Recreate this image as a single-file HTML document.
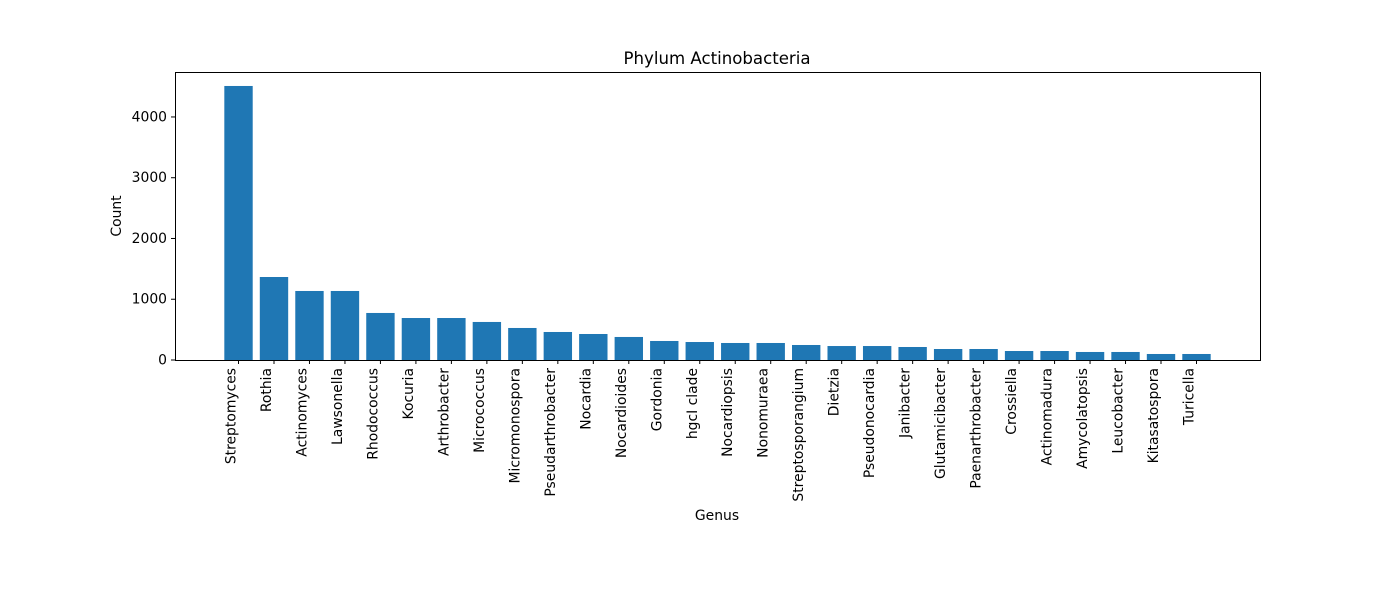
<!DOCTYPE html>
<html><head><meta charset="utf-8"><style>
body{margin:0;background:#fff;}
svg{font-family:"DejaVu Sans","Liberation Sans",sans-serif;}
</style></head><body>
<svg id="chart" width="1400" height="600" xmlns="http://www.w3.org/2000/svg">
<rect width="1400" height="600" fill="#fff"/>
<text x="717" y="64" text-anchor="middle" font-size="16.6">Phylum Actinobacteria</text>
<g id="bars"></g><g id="xticks"></g><g id="yticks"></g>
<rect x="175.5" y="72.5" width="1085" height="288" fill="none" stroke="#000" stroke-width="1"/>
<text transform="translate(121,216) rotate(-90)" text-anchor="middle" font-size="13.9">Count</text>
<text x="717" y="520" text-anchor="middle" font-size="13.9">Genus</text>
</svg>
<script>
const categories=["Streptomyces","Rothia","Actinomyces","Lawsonella","Rhodococcus","Kocuria","Arthrobacter","Micrococcus","Micromonospora","Pseudarthrobacter","Nocardia","Nocardioides","Gordonia","hgcI clade","Nocardiopsis","Nonomuraea","Streptosporangium","Dietzia","Pseudonocardia","Janibacter","Glutamicibacter","Paenarthrobacter","Crossiella","Actinomadura","Amycolatopsis","Leucobacter","Kitasatospora","Turicella"];
const counts=[4510,1366,1136,1136,774,691,691,626,527,461,428,379,313,296,280,280,247,230,230,214,181,181,148,148,132,132,99,99];
const yTicks=[0,1000,2000,3000,4000];
const NS="http://www.w3.org/2000/svg";
const L=175,R=1260,T=72,B=360;
const ymax=4740;
const xmin=-1.79,xmax=categories.length-1+1.79;
const xs=v=>L+(v-xmin)/(xmax-xmin)*(R-L);
const ys=v=>B-v/ymax*(B-T);
const bw=0.8*(R-L)/(xmax-xmin);
function mk(t,a){const e=document.createElementNS(NS,t);for(const k in a)e.setAttribute(k,a[k]);return e;}
const gb=document.getElementById('bars'),gx=document.getElementById('xticks'),gy=document.getElementById('yticks');
categories.forEach((c,i)=>{
 const cx=xs(i);
 const r=mk('rect',{x:cx-bw/2,y:ys(counts[i]),width:bw,height:B-ys(counts[i]),fill:'#1f77b4'});
 
 
 gb.appendChild(r);
 const tk=mk('line',{x1:cx,x2:cx,y1:B,y2:B+4,stroke:'#000'});
 
 
 gx.appendChild(tk);
 const t=mk('text',{transform:`translate(${cx-3},${B+8}) rotate(-90)`,'text-anchor':'end','font-size':'13.9'});
 t.textContent=c;
 
 
 gx.appendChild(t);
});
yTicks.forEach(v=>{
 const y=ys(v);
 const tk=mk('line',{x1:L-4,x2:L,y1:y,y2:y,stroke:'#000'});
 
 
 gy.appendChild(tk);
 const t=mk('text',{x:L-8,y:y+4.5,'text-anchor':'end','font-size':'13.9'});
 t.textContent=v;
 
 
 gy.appendChild(t);
});
</script>
</body></html>
